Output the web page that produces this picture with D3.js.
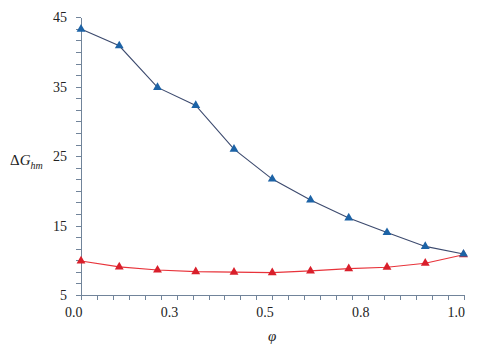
<!DOCTYPE html>
<html>
<head>
<meta charset="utf-8">
<script src="https://cdn.jsdelivr.net/npm/d3@7"></script>
<style>
body{margin:0;background:#fff;}
svg{display:block;}
.axis path,.axis line{stroke:#71849a;stroke-width:1;shape-rendering:crispEdges;}
</style>
</head>
<body>
<div id="chart"></div>
<script>
var w = 487;
var h = 345;
var serif = "Liberation Serif, DejaVu Serif, serif";

// phi values along x
var phi = [0, 0.1, 0.2, 0.3, 0.4, 0.5, 0.6, 0.7, 0.8, 0.9, 1.0];
// upper (blue) series
var blueVals = [43.3, 40.9, 34.9, 32.3, 26.0, 21.7, 18.7, 16.1, 14.0, 12.0, 10.9];
// lower (red) series
var redVals = [9.9, 9.05, 8.6, 8.37, 8.29, 8.23, 8.47, 8.8, 9.0, 9.58, 10.8];

var xTickValues = [0, 0.25, 0.5, 0.75, 1.0];
var xTickLabels = ["0.0", "0.3", "0.5", "0.8", "1.0"];
var yTickValues = [5, 15, 25, 35, 45];

var xMin = 0, xMax = 1;
var yMin = 5, yMax = 45;

var svgChart, xScale, yScale;

function setScales(){
  xScale = d3.scaleLinear()
    .domain([xMin, xMax])
    .range([81, 463.5]);

  yScale = d3.scaleLinear()
    .domain([yMin, yMax])
    .range([295, 17.3]);
}

function minorTicks(lo, hi, n){
  var out = [];
  for (var i = 0; i <= n; i++) out.push(lo + (hi - lo) * i / n);
  return out;
}

function drawAxes(){
  // y axis, minor ticks every 1/6 of a major step
  var yTicks = minorTicks(yMin, yMax, 24);
  var gy = svgChart.append("g")
    .attr("class", "axis")
    .attr("transform", "translate(" + xScale(xMin) + ",0)")
    .call(d3.axisLeft(yScale)
      .tickValues(yTicks)
      .tickSizeInner(5)
      .tickSizeOuter(0)
      .tickPadding(9)
      .tickFormat(function(d){
        var hit = yTickValues.find(function(v){ return Math.abs(v - d) < 1e-6; });
        return hit === undefined ? "" : hit;
      }));
  gy.attr("font-family", null).attr("font-size", null);
  gy.selectAll("text")
    .style("font-family", serif)
    .style("font-size", "14px")
    .attr("fill", "#222");

  // x axis
  var xTicks = minorTicks(xMin, xMax, 24);
  var gx = svgChart.append("g")
    .attr("class", "axis")
    .attr("transform", "translate(0," + yScale(yMin) + ")")
    .call(d3.axisBottom(xScale)
      .tickValues(xTicks)
      .tickSizeInner(5)
      .tickSizeOuter(0)
      .tickFormat(function(d){
        var k = xTickValues.findIndex(function(v){ return Math.abs(v - d) < 1e-6; });
        return k < 0 ? "" : xTickLabels[k];
      }));
  gx.attr("font-family", null).attr("font-size", null);
  // labels sit right-aligned on their tick
  gx.selectAll("text")
    .style("font-family", serif)
    .style("font-size", "14px")
    .attr("fill", "#222")
    .attr("text-anchor", "end")
    .attr("x", 1)
    .attr("y", 22)
    .attr("dy", 0);

  // axis titles
  svgChart.append("text")
    .attr("x", xScale(0.5))
    .attr("y", 341)
    .attr("text-anchor", "middle")
    .style("font-family", serif)
    .style("font-size", "15px")
    .style("font-style", "italic")
    .attr("fill", "#222")
    .text("\u03c6");

  var t = svgChart.append("text")
    .attr("x", 10)
    .attr("y", 165)
    .style("font-family", serif)
    .style("font-size", "15px")
    .attr("fill", "#222");
  t.append("tspan").text("\u0394");
  t.append("tspan").style("font-style", "italic").text("G");
  t.append("tspan")
    .attr("dy", 4)
    .style("font-style", "italic")
    .style("font-size", "10px")
    .text("hm");
}

function addSeries(vals, lineColor, markColor){
  var data = phi.map(function(p, i){ return {x: p, y: vals[i]}; });

  var line = d3.line()
    .x(function(d){ return xScale(d.x); })
    .y(function(d){ return yScale(d.y); });

  svgChart.append("path")
    .datum(data)
    .attr("fill", "none")
    .attr("stroke", lineColor)
    .attr("stroke-width", 1.1)
    .attr("d", line);

  var tri = d3.symbol().type(d3.symbolTriangle).size(34);
  svgChart.selectAll(null)
    .data(data)
    .enter()
    .append("path")
    .attr("d", tri)
    .attr("fill", markColor)
    .attr("transform", function(d){
      return "translate(" + xScale(d.x) + "," + yScale(d.y) + ")";
    });
}

function runChart(){
  setScales();
  svgChart = d3.select("#chart")
    .append("svg")
    .attr("width", w)
    .attr("height", h);

  drawAxes();
  addSeries(redVals, "#e8333a", "#d91f2b");
  addSeries(blueVals, "#3c4a6e", "#1d63a6");
}

runChart();
</script>
</body>
</html>
